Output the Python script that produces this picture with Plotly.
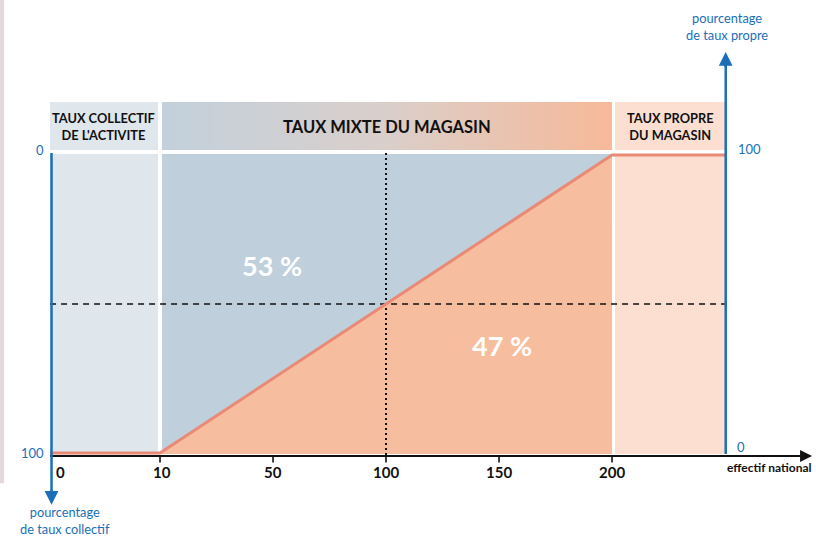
import numpy as np
import plotly.graph_objects as go

# ---------------- data ----------------
EFFECTIF_TICKS = [0, 10, 50, 100, 150, 200]
TICK_LABELS = ["0", "10", "50", "100", "150", "200"]
# share of "taux propre" (%) along effectif breakpoints
LINE_EFFECTIF = ["start", 10, 200, "end"]
PROPRE_SHARE = [0, 0, 100, 100]
SHARE_AT_100 = 50
PCT_LABELS = ["53 %", "47 %"]
HEADERS = ["TAUX COLLECTIF<br>DE L'ACTIVITE", "TAUX MIXTE DU MAGASIN", "TAUX PROPRE<br>DU MAGASIN"]
LEFT_AXIS_TICKS = ["0", "100"]
RIGHT_AXIS_TICKS = ["100", "0"]

# ---------------- scale (non-uniform effectif axis) ----------------
AXIS_POS = [0.115, 1, 2, 3, 4, 5]
X_START, X_END = 0.027, 6.006


def xs(v):
    if v == "start":
        return X_START
    if v == "end":
        return X_END
    return float(np.interp(v, EFFECTIF_TICKS, AXIS_POS))


BLUE = "#1a6fb8"
C_LEFT = "#dfe6ec"
C_MID = "#c0cfdc"
C_ORANGE = "#f7bd9f"
C_RIGHT = "#fcdfd0"
C_LINE = "#e88a75"

fig = go.Figure()
shapes = []
ann = []

# left faint strip (page border)
shapes.append(dict(type="rect", xref="paper", yref="paper", x0=0, x1=0.005, y0=0.105, y1=1,
                   fillcolor="#e3d8dd", line_width=0, layer="below"))

# header boxes
HY0, HY1 = 101.7, 117.8
shapes.append(dict(type="rect", x0=X_START, x1=xs(10) - 0.018, y0=HY0, y1=HY1,
                   fillcolor=C_LEFT, line_width=0, layer="below"))
shapes.append(dict(type="rect", x0=xs(200) + 0.027, x1=X_END, y0=HY0, y1=HY1,
                   fillcolor=C_RIGHT, line_width=0, layer="below"))
mx0, mx1 = xs(10) + 0.018, xs(200)
fig.add_trace(go.Scatter(x=[mx0, mx1, mx1, mx0, mx0], y=[HY0, HY0, HY1, HY1, HY0],
                         mode="lines", line_width=0, fill="toself",
                         fillgradient=dict(type="horizontal",
                                           colorscale=[[0, "#c2d0dc"], [0.5, "#dacfca"], [1, "#f7b999"]]),
                         hoverinfo="skip", showlegend=False))

# plot region fills
PY0, PY1 = -0.3, 100.3
shapes.append(dict(type="rect", x0=X_START, x1=xs(10) - 0.018, y0=PY0, y1=PY1,
                   fillcolor=C_LEFT, line_width=0, layer="below"))
shapes.append(dict(type="rect", x0=xs(10) + 0.018, x1=xs(200), y0=PY0, y1=PY1,
                   fillcolor=C_MID, line_width=0, layer="below"))
shapes.append(dict(type="rect", x0=xs(200) + 0.027, x1=X_END, y0=PY0, y1=PY1,
                   fillcolor=C_RIGHT, line_width=0, layer="below"))

# orange area under the line in the mixed zone
fig.add_trace(go.Scatter(x=[xs(10), xs(200), xs(200), xs(10)],
                         y=[PROPRE_SHARE[1], PROPRE_SHARE[2], PY0, PY0],
                         mode="lines", line_width=0, fill="toself", fillcolor=C_ORANGE,
                         hoverinfo="skip", showlegend=False))

# dashed horizontal at 50 %, dotted vertical at effectif 100
fig.add_trace(go.Scatter(x=[X_START, X_END], y=[SHARE_AT_100, SHARE_AT_100], mode="lines",
                         line=dict(color="#111111", width=1.6, dash="6px,5px"),
                         hoverinfo="skip", showlegend=False))
fig.add_trace(go.Scatter(x=[xs(100), xs(100)], y=[100.7, -1.0], mode="lines",
                         line=dict(color="#111111", width=2, dash="2px,3px"),
                         hoverinfo="skip", showlegend=False))

# main line
fig.add_trace(go.Scatter(x=[xs(v) for v in LINE_EFFECTIF], y=PROPRE_SHARE, mode="lines",
                         line=dict(color=C_LINE, width=3), hoverinfo="skip", showlegend=False))

# x axis + ticks
XA_Y = -1.0
fig.add_trace(go.Scatter(x=[X_START, 6.70], y=[XA_Y, XA_Y], mode="lines",
                         line=dict(color="#111111", width=2), hoverinfo="skip", showlegend=False))
ann.append(dict(x=6.77, y=XA_Y, ax=6.6, ay=XA_Y, axref="x", ayref="y", xref="x", yref="y",
                showarrow=True, arrowhead=2, arrowsize=1.2, arrowwidth=2, arrowcolor="#111111", text=""))
for v, lab in zip(EFFECTIF_TICKS, TICK_LABELS):
    if v != 0:
        shapes.append(dict(type="line", x0=xs(v), x1=xs(v), y0=XA_Y, y1=-3.2,
                           line=dict(color="#111111", width=1.6)))
    ann.append(dict(x=xs(v) + (0.02 if v == 10 else 0), y=-6.4, text=lab, showarrow=False,
                    font=dict(family="Lato", size=15, color="#111111", weight="bold")))
ann.append(dict(x=6.389, y=-4.7, text="effectif national", showarrow=False,
                font=dict(family="Lato", size=12, color="#111111", weight="bold")))

# left blue axis (down)
LX = 0.040
fig.add_trace(go.Scatter(x=[LX, LX], y=[100.7, -14.0], mode="lines",
                         line=dict(color=BLUE, width=2.5), hoverinfo="skip", showlegend=False))
ann.append(dict(x=LX, y=-17.4, ax=LX, ay=-12.0, axref="x", ayref="y", xref="x", yref="y",
                showarrow=True, arrowhead=2, arrowsize=1.1, arrowwidth=2.5, arrowcolor=BLUE, text=""))
# right blue axis (up)
RX = 6.006
fig.add_trace(go.Scatter(x=[RX, RX], y=[-0.3, 131.0], mode="lines",
                         line=dict(color=BLUE, width=2.5), hoverinfo="skip", showlegend=False))
ann.append(dict(x=RX, y=134.6, ax=RX, ay=129.0, axref="x", ayref="y", xref="x", yref="y",
                showarrow=True, arrowhead=2, arrowsize=1.1, arrowwidth=2.5, arrowcolor=BLUE, text=""))

# blue axis tick labels
bf = dict(family="Lato", size=13, color=BLUE)
ann.append(dict(x=-0.010, y=101.7, text=LEFT_AXIS_TICKS[0], showarrow=False, xanchor="right", font=bf))
ann.append(dict(x=-0.010, y=0.0, text=LEFT_AXIS_TICKS[1], showarrow=False, xanchor="right", font=bf))
ann.append(dict(x=6.10, y=102.0, text=RIGHT_AXIS_TICKS[0], showarrow=False, xanchor="left", font=bf))
ann.append(dict(x=6.09, y=2.0, text=RIGHT_AXIS_TICKS[1], showarrow=False, xanchor="left", font=bf))
ann.append(dict(x=6.018, y=143.0, text="pourcentage<br>de taux propre", showarrow=False,
                font=dict(family="Lato", size=12.8, color=BLUE)))
ann.append(dict(x=0.159, y=-22.6, text="pourcentage<br>de taux collectif", showarrow=False,
                font=dict(family="Lato", size=12.8, color=BLUE)))

# headers
hf = dict(family="Lato", color="#111111", weight="bold")
ann.append(dict(x=0.504, y=109.7, text=HEADERS[0], showarrow=False, font=dict(hf, size=12.8)))
ann.append(dict(x=3.009, y=109.4, text=HEADERS[1], showarrow=False, font=dict(hf, size=16.5)))
ann.append(dict(x=5.513, y=109.7, text=HEADERS[2], showarrow=False, font=dict(hf, size=12.8)))

# percentages
pf = dict(family="Lato", size=27, color="white", weight="bold")
ann.append(dict(x=1.991, y=62.8, text=PCT_LABELS[0], showarrow=False, font=pf))
ann.append(dict(x=4.027, y=36.2, text=PCT_LABELS[1], showarrow=False, font=pf))

fig.update_layout(
    width=816, height=540, margin=dict(l=0, r=0, t=0, b=0),
    paper_bgcolor="white", plot_bgcolor="white",
    xaxis=dict(range=[-0.416, 6.805], visible=False, fixedrange=True),
    yaxis=dict(range=[-29.19, 152.01], visible=False, fixedrange=True),
    shapes=shapes, annotations=ann, showlegend=False,
)
fig.write_html("out.html", config={"displayModeBar": False},
               post_script="document.body.style.margin='0';document.body.style.overflow='hidden';")
